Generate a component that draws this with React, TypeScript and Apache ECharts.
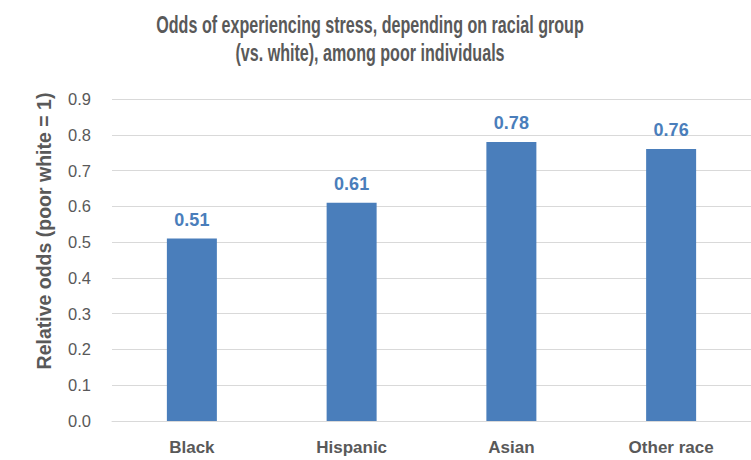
import React, { useEffect, useRef } from "react";
import * as echarts from "echarts";

const categories = ["Black", "Hispanic", "Asian", "Other race"];
const relativeOdds = [0.51, 0.61, 0.78, 0.76];
const yTicks = { min: 0, max: 0.9, interval: 0.1 };

const titleLines = [
  "Odds of experiencing stress, depending on racial group",
  "(vs. white), among poor individuals",
];
const yAxisName = "Relative odds (poor white = 1)";

const GRAY = "#595959";
const BLUE = "#4a7ebb";
const FONT = "'Liberation Sans', Arial, Helvetica, sans-serif";

export default function App() {
  const ref = useRef<HTMLDivElement>(null);

  useEffect(() => {
    if (!ref.current) return;
    const chart = echarts.init(ref.current, undefined, { renderer: "svg" });
    chart.setOption({
      animation: false,
      backgroundColor: "#ffffff",
      graphic: [
        // Title, drawn with a tightened (horizontally condensed) face
        ...titleLines.map((line, i) => ({
          type: "text",
          x: 370,
          y: 25 + i * 28,
          scaleX: 0.7,
          style: {
            text: line,
            fill: GRAY,
            font: `bold 23px ${FONT}`,
            textAlign: "center",
            textVerticalAlign: "middle",
          },
        })),
        {
          type: "text",
          x: 44,
          y: 231,
          rotation: Math.PI / 2,
          style: {
            text: yAxisName,
            fill: GRAY,
            font: `bold 19.5px ${FONT}`,
            textAlign: "center",
            textVerticalAlign: "middle",
          },
        },
      ],
      grid: { left: 112, right: -2, top: 99, bottom: 39 },
      xAxis: {
        type: "category",
        data: categories,
        axisLine: { show: true, lineStyle: { color: "#d9d9d9", width: 1 } },
        axisTick: { show: false },
        axisLabel: {
          color: GRAY,
          fontFamily: FONT,
          fontSize: 17,
          fontWeight: "bold",
          margin: 18,
        },
      },
      yAxis: {
        type: "value",
        min: yTicks.min,
        max: yTicks.max,
        interval: yTicks.interval,
        axisLine: { show: false },
        axisTick: { show: false },
        axisLabel: {
          color: GRAY,
          fontFamily: FONT,
          fontSize: 16.5,
          margin: 21,
          formatter: (v: number) => v.toFixed(1),
        },
        splitLine: { lineStyle: { color: "#d9d9d9", width: 1 } },
      },
      series: [
        {
          type: "bar",
          data: relativeOdds,
          barWidth: 50,
          itemStyle: { color: BLUE },
          label: {
            show: true,
            position: "top",
            distance: 10,
            color: BLUE,
            fontFamily: FONT,
            fontSize: 18,
            fontWeight: "bold",
            formatter: (p: any) => p.value.toFixed(2),
          },
        },
      ],
    });
    return () => chart.dispose();
  }, []);

  return (
    <div
      ref={ref}
      style={{ position: "fixed", left: 0, top: 0, width: 751, height: 460 }}
    />
  );
}
